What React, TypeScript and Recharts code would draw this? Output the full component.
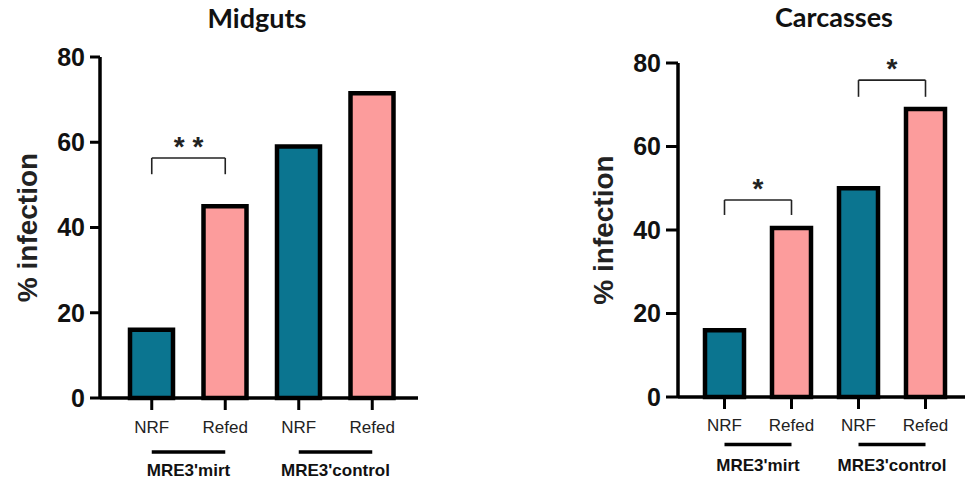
import { Bar, BarChart, Cell, ReferenceLine, XAxis, YAxis } from 'recharts'

const categoryKeys = ['mirt-NRF', 'mirt-Refed', 'control-NRF', 'control-Refed']
const categoryLabels = ['NRF', 'Refed', 'NRF', 'Refed']
const groupLabels = ["MRE3'mirt", "MRE3'control"]
const barColors = ['#0b7590', '#fc9c9c', '#0b7590', '#fc9c9c']
const yTicks = [0, 20, 40, 60, 80]

const midgutValues = [16, 45, 59, 71.5]
const carcassValues = [16, 40.5, 50, 69]

// significance brackets, in data units
const midgutBrackets = [{ from: 'mirt-NRF', to: 'mirt-Refed', top: 56.3, bottom: 52.5, mark: '* *' }]
const carcassBrackets = [
  { from: 'mirt-NRF', to: 'mirt-Refed', top: 47.2, bottom: 43.6, mark: '*' },
  { from: 'control-NRF', to: 'control-Refed', top: 75.9, bottom: 71.9, mark: '*' },
]

const AXIS_FONT = '"Liberation Sans", Arial, sans-serif'

function buildRows(values: number[]) {
  return categoryKeys.map((key, i) => ({ key, label: categoryLabels[i], value: values[i] }))
}

function CategoryTick(props: any) {
  const { x, y, payload, index, labelDy, lineDy, groupDy } = props
  const i = payload?.index ?? index
  const half = payload?.offset ?? 0
  return (
    <g>
      <text x={x} y={y + labelDy} textAnchor="middle" dominantBaseline="central" fontSize={17} fill="#222" fontFamily={AXIS_FONT}>
        {categoryLabels[i]}
      </text>
      {i % 2 === 0 && (
        <>
          <line x1={x} x2={x + half * 2} y1={y + lineDy} y2={y + lineDy} stroke="#000" strokeWidth={3.5} />
          <text x={x + half} y={y + groupDy} textAnchor="middle" dominantBaseline="central" fontSize={17} fontWeight="bold" fill="#111" fontFamily={AXIS_FONT}>
            {groupLabels[Math.floor(i / 2)]}
          </text>
        </>
      )}
    </g>
  )
}

function AxisTitle(props: any) {
  const { viewBox, shift } = props
  const cx = viewBox.x - shift
  const cy = viewBox.y + viewBox.height / 2
  return (
    <text x={cx} y={cy} transform={`rotate(-90 ${cx} ${cy})`} textAnchor="middle" dominantBaseline="central" fontSize={28} fontWeight="bold" fill="#222" fontFamily={AXIS_FONT}>
      % infection
    </text>
  )
}

interface PanelProps {
  values: number[]
  brackets: { from: string; to: string; top: number; bottom: number; mark: string }[]
  width: number
  margin: { top: number; right: number; bottom: number; left: number }
  padding: { left: number; right: number }
  barSize: number
  yTickSize: number
  titleShift: number
  tickLayout: { labelDy: number; lineDy: number; groupDy: number }
}

function Panel({ values, brackets, width, margin, padding, barSize, yTickSize, titleShift, tickLayout }: PanelProps) {
  const rows = buildRows(values)
  return (
    <BarChart width={width} height={484} data={rows} margin={margin}>
      <XAxis
        dataKey="key"
        interval={0}
        padding={padding}
        height={80}
        tickSize={12}
        tickMargin={0}
        axisLine={{ stroke: '#000', strokeWidth: 3.5 }}
        tickLine={{ stroke: '#000', strokeWidth: 3 }}
        tick={<CategoryTick {...tickLayout} />}
      />
      <YAxis
        domain={[0, 80]}
        ticks={yTicks}
        width={60}
        tickSize={yTickSize}
        tickMargin={5}
        axisLine={{ stroke: '#000', strokeWidth: 3.5 }}
        tickLine={{ stroke: '#000', strokeWidth: 3 }}
        tick={{ fontSize: 25, fontWeight: 'bold', fill: '#111', fontFamily: AXIS_FONT }}
        label={<AxisTitle shift={titleShift} />}
      />
      <Bar dataKey="value" barSize={barSize} stroke="#000" strokeWidth={4.5} isAnimationActive={false}>
        {rows.map((row, i) => (
          <Cell key={row.key} fill={barColors[i]} />
        ))}
      </Bar>
      {brackets.map(b => [
        <ReferenceLine
          key={`${b.from}-h`}
          segment={[{ x: b.from, y: b.top }, { x: b.to, y: b.top }]}
          stroke="#222"
          strokeWidth={1.6}
          label={{ value: b.mark, position: 'top', offset: 2, fontSize: 28, fontWeight: 'bold', fill: '#222', fontFamily: AXIS_FONT }}
        />,
        <ReferenceLine key={`${b.from}-l`} segment={[{ x: b.from, y: b.bottom }, { x: b.from, y: b.top }]} stroke="#222" strokeWidth={1.6} />,
        <ReferenceLine key={`${b.from}-r`} segment={[{ x: b.to, y: b.bottom }, { x: b.to, y: b.top }]} stroke="#222" strokeWidth={1.6} />,
      ])}
    </BarChart>
  )
}

const titleStyle = {
  position: 'absolute' as const,
  fontFamily: 'Lato, "Open Sans", sans-serif',
  fontWeight: 'bold',
  fontSize: 27,
  lineHeight: 1,
  color: '#111',
  textAlign: 'center' as const,
}

export default function App() {
  return (
    <div style={{ position: 'absolute', left: 0, top: 0, width: 965, height: 484, background: '#fff' }}>
      <div style={{ ...titleStyle, left: 157, width: 200, top: 4 }}>Midguts</div>
      <div style={{ ...titleStyle, left: 734, width: 200, top: 3 }}>Carcasses</div>
      <div style={{ position: 'absolute', left: 0, top: 0 }}>
        <Panel
          values={midgutValues}
          brackets={midgutBrackets}
          width={430}
          margin={{ top: 57, right: 12, bottom: 6, left: 40 }}
          padding={{ left: 15, right: 9 }}
          barSize={43}
          yTickSize={10}
          titleShift={13}
          tickLayout={{ labelDy: 17, lineDy: 42, groupDy: 60 }}
        />
      </div>
      <div style={{ position: 'absolute', left: 560, top: 0 }}>
        <Panel
          values={carcassValues}
          brackets={carcassBrackets}
          width={405}
          margin={{ top: 63, right: 0, bottom: 7, left: 58 }}
          padding={{ left: 13, right: 6 }}
          barSize={39}
          yTickSize={12}
          titleShift={15}
          tickLayout={{ labelDy: 16, lineDy: 35.5, groupDy: 56 }}
        />
      </div>
    </div>
  )
}
